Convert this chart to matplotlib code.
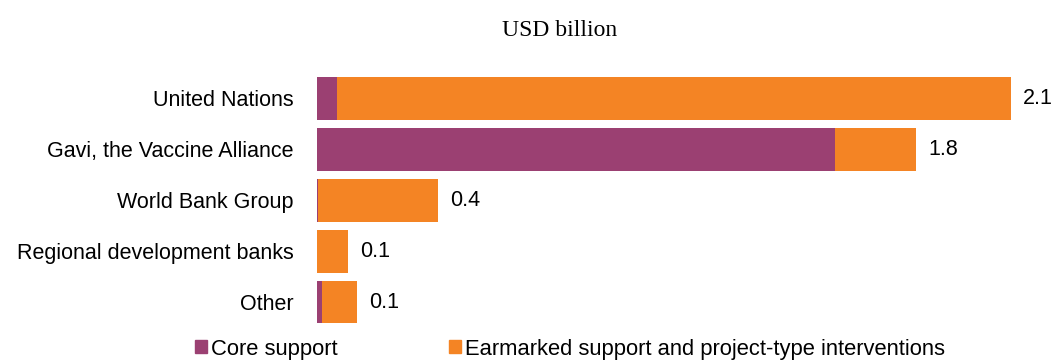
import matplotlib.pyplot as plt
from matplotlib.patches import Patch

# Datos (USD billion)
categorias = ['United Nations', 'Gavi, the Vaccine Alliance', 'World Bank Group',
              'Regional development banks', 'Other']
core = [0.061, 1.568, 0.004, 0.0, 0.015]
earmarked = [2.039, 0.245, 0.362, 0.094, 0.105]

color_core = '#9B4072'
color_earm = '#F48424'

plt.rcParams['font.family'] = ['Liberation Sans', 'DejaVu Sans']

fig = plt.figure(figsize=(10.55, 3.61), dpi=100)
ax = fig.add_axes([317 / 1055, 1 - 327.5 / 361, 1 - 317 / 1055, (327.5 - 73) / 361])

y = list(range(len(categorias)))
ax.barh(y, core, height=0.84, color=color_core, edgecolor='none')
ax.barh(y, earmarked, left=core, height=0.84, color=color_earm, edgecolor='none')

# etiquetas con el total
for i in y:
    total = core[i] + earmarked[i]
    ax.annotate(f'{total:.1f}', xy=(total, i), xytext=(9, 0), textcoords='offset points',
                ha='left', va='center', fontsize=15.5)

ax.set_xlim(0, (1055 - 317) / 330.3)
ax.set_ylim(len(categorias) - 0.5, -0.5)
ax.set_yticks(y)
ax.set_yticklabels(categorias, fontsize=15.5)
ax.tick_params(axis='y', length=0, pad=17)
ax.set_xticks([])
for s in ax.spines.values():
    s.set_visible(False)

fig.text(560 / 1055, 1 - 31 / 361, 'USD billion', ha='center', va='center',
         fontsize=17, family=['Liberation Serif', 'DejaVu Serif'])

handles = [Patch(color=color_core, label='Core support'),
           Patch(color=color_earm, label='Earmarked support and project-type interventions')]
fig.legend(handles=handles, loc='center', bbox_to_anchor=(570 / 1055, 1 - 349 / 361),
           ncol=2, frameon=False, fontsize=15.8, handlelength=0.55, handleheight=0.55,
           handletextpad=0.15, columnspacing=5.1, borderpad=0, borderaxespad=0)

plt.savefig('out.png', dpi=100)
